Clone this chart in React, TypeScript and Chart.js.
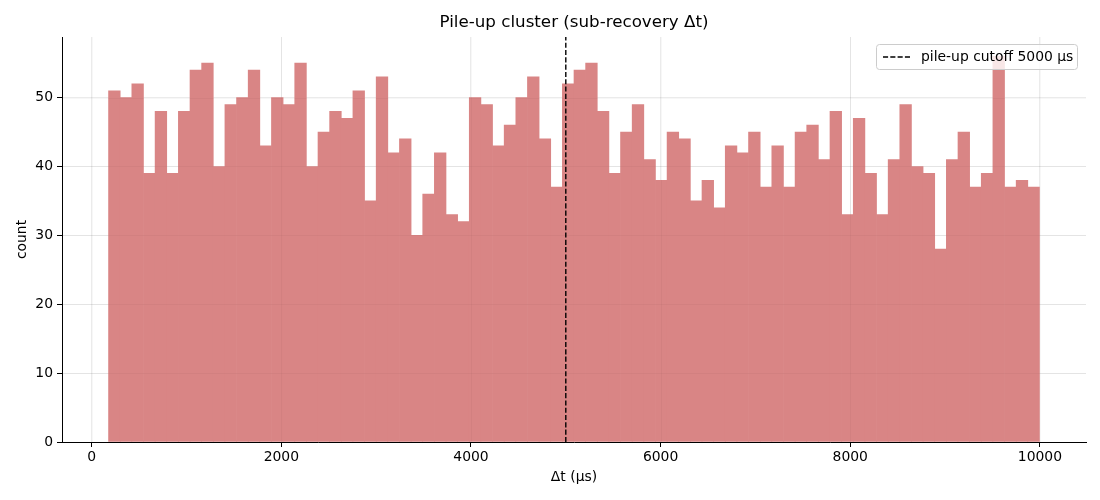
import React, { useEffect, useRef } from 'react';
import { Chart, registerables } from 'chart.js';

Chart.register(...registerables);

// histogram counts, 80 bins between binStart and binEnd (µs)
const counts = [
  51, 50, 52, 39, 48, 39, 48, 54, 55, 40,
  49, 50, 54, 43, 50, 49, 55, 40, 45, 48,
  47, 51, 35, 53, 42, 44, 30, 36, 42, 33,
  32, 50, 49, 43, 46, 50, 53, 44, 37, 52,
  54, 55, 48, 39, 45, 49, 41, 38, 45, 44,
  35, 38, 34, 43, 42, 45, 37, 43, 37, 45,
  46, 41, 48, 33, 47, 39, 33, 41, 49, 40,
  39, 28, 41, 45, 37, 39, 56, 37, 38, 37,
];
const binStart = 178;
const binEnd = 9995;
const cutoff = 5000;
const xTicks = [0, 2000, 4000, 6000, 8000, 10000];
const yTicks = [0, 10, 20, 30, 40, 50];

const FONT = '"DejaVu Sans", sans-serif';

// faint grid showing through the (semi transparent looking) bars
const gridOverlay = {
  id: 'gridOverlay',
  afterDatasetsDraw(chart: any) {
    const { ctx, chartArea, scales } = chart;
    ctx.save();
    ctx.strokeStyle = 'rgba(0,0,0,0.03)';
    ctx.lineWidth = 1;
    ctx.beginPath();
    xTicks.forEach((v) => {
      const px = Math.round(scales.x.getPixelForValue(v)) + 0.5;
      ctx.moveTo(px, chartArea.top);
      ctx.lineTo(px, chartArea.bottom);
    });
    yTicks.forEach((v) => {
      const py = Math.round(scales.y.getPixelForValue(v)) + 0.5;
      ctx.moveTo(chartArea.left, py);
      ctx.lineTo(chartArea.right, py);
    });
    ctx.stroke();
    ctx.restore();
  },
};

const textPlugin = {
  id: 'mplText',
  afterDraw(chart: any) {
    const { ctx, chartArea } = chart;
    ctx.save();
    ctx.fillStyle = '#000';
    ctx.textAlign = 'center';
    ctx.textBaseline = 'middle';
    ctx.font = `16.7px ${FONT}`;
    ctx.fillText('Pile-up cluster (sub-recovery Δt)', (chartArea.left + chartArea.right) / 2, 23);
    ctx.font = `13.9px ${FONT}`;
    ctx.fillText('Δt (μs)', (chartArea.left + chartArea.right) / 2, 477);
    ctx.translate(22, (chartArea.top + chartArea.bottom) / 2);
    ctx.rotate(-Math.PI / 2);
    ctx.fillText('count', 0, 0);
    ctx.restore();

    // legend box
    ctx.save();
    const x = 876.5, y = 44.5, w = 201, h = 25, r = 3;
    ctx.beginPath();
    ctx.moveTo(x + r, y);
    ctx.arcTo(x + w, y, x + w, y + h, r);
    ctx.arcTo(x + w, y + h, x, y + h, r);
    ctx.arcTo(x, y + h, x, y, r);
    ctx.arcTo(x, y, x + w, y, r);
    ctx.closePath();
    ctx.fillStyle = 'rgba(255,255,255,0.8)';
    ctx.fill();
    ctx.strokeStyle = '#cccccc';
    ctx.lineWidth = 1;
    ctx.stroke();
    ctx.beginPath();
    ctx.setLineDash([5.1, 2.2]);
    ctx.strokeStyle = '#000';
    ctx.lineWidth = 1.4;
    ctx.moveTo(883, 57);
    ctx.lineTo(911, 57);
    ctx.stroke();
    ctx.setLineDash([]);
    ctx.fillStyle = '#000';
    ctx.font = `13.9px ${FONT}`;
    ctx.textAlign = 'left';
    ctx.textBaseline = 'middle';
    ctx.fillText(`pile-up cutoff ${cutoff} μs`, 921, 57.5);
    ctx.restore();
  },
};

export default function App() {
  const chartRef = useRef<HTMLCanvasElement>(null);
  const chartInstance = useRef<Chart | null>(null);

  useEffect(() => {
    if (!chartRef.current) return;
    if (chartInstance.current) chartInstance.current.destroy();

    const width = (binEnd - binStart) / counts.length;
    const bars = counts.map((c, i) => ({ x: binStart + width * (i + 0.5), y: c }));
    const yMax = 58.8;

    chartInstance.current = new Chart(chartRef.current, {
      type: 'bar',
      data: {
        datasets: [
          {
            type: 'line',
            label: `pile-up cutoff ${cutoff} μs`,
            data: [{ x: cutoff, y: 0 }, { x: cutoff, y: yMax }],
            borderColor: '#000',
            borderWidth: 1.4,
            borderDash: [5.1, 2.2],
            pointRadius: 0,
            order: 0,
          } as any,
          {
            type: 'bar',
            label: 'counts',
            data: bars,
            backgroundColor: 'rgb(217,133,133)',
            borderWidth: 0,
            barPercentage: 1,
            categoryPercentage: 1,
            order: 1,
          },
        ],
      },
      options: {
        responsive: true,
        maintainAspectRatio: false,
        animation: false,
        layout: { padding: { left: 0, right: 14, top: 37, bottom: 0 } },
        plugins: {
          legend: { display: false },
          title: { display: false },
          tooltip: { enabled: false },
        },
        scales: {
          x: {
            type: 'linear',
            min: -313,
            max: 10486,
            offset: false,
            grid: {
              offset: false,
              color: 'rgba(0,0,0,0.08)',
              tickColor: '#000',
              tickLength: 5,
              tickWidth: 1,
            },
            border: { display: true, color: '#000', width: 1 },
            ticks: {
              color: '#000',
              font: { family: FONT, size: 13.9 },
              padding: 2,
              maxRotation: 0,
              callback: (v: any) => `${v}`,
            },
            afterBuildTicks: (scale: any) => {
              scale.ticks = xTicks.map((v) => ({ value: v }));
            },
            afterFit: (scale: any) => {
              scale.height = 58;
            },
          },
          y: {
            type: 'linear',
            min: 0,
            max: yMax,
            grid: {
              color: 'rgba(0,0,0,0.08)',
              tickColor: '#000',
              tickLength: 5,
              tickWidth: 1,
            },
            border: { display: true, color: '#000', width: 1 },
            ticks: {
              color: '#000',
              font: { family: FONT, size: 13.9 },
              padding: 4,
              callback: (v: any) => `${v}`,
            },
            afterBuildTicks: (scale: any) => {
              scale.ticks = yTicks.map((v) => ({ value: v }));
            },
            afterFit: (scale: any) => {
              scale.width = 62;
            },
          },
        },
      },
      plugins: [gridOverlay, textPlugin],
    });

    return () => {
      if (chartInstance.current) {
        chartInstance.current.destroy();
        chartInstance.current = null;
      }
    };
  }, []);

  return (
    <div style={{ position: 'fixed', left: 0, top: 0, width: 1100, height: 500, background: '#fff' }}>
      <canvas ref={chartRef} />
    </div>
  );
}
